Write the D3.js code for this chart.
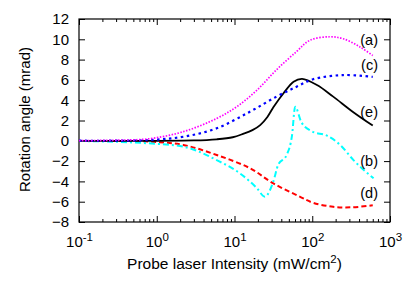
<!DOCTYPE html>
<html lang="en">
<head>
    <meta charset="UTF-8">
    <title>Rotation angle vs probe intensity</title>
    <style>
        body { margin: 0; background: #fff; }
        svg { font-family: "Liberation Sans", Arial, sans-serif; }
        .axis text { font-size: 15px; fill: #000; }
        .axis line { stroke: #000; }
        .curve { fill: none; }
    </style>
</head>
<body>
    <div id="chart"></div>

    <script src="https://d3js.org/d3.v7.min.js"></script>
    <script>
        // Data (intensity in mW/cm^2, rotation in mrad)
        const xA = [0.1, 0.3, 0.8, 2.2, 5.9, 10.7, 19.5, 34.7, 63, 93, 170, 251, 407, 600];
        const yA = [0.02, 0.06, 0.2, 0.9, 2.2, 3.36, 5.0, 7.0, 8.8, 9.9, 10.25, 10.05, 9.27, 8.4];

        const xC = [0.1, 0.8, 2.2, 5.9, 15.8, 34.7, 63, 102, 251, 600];
        const yC = [0.01, 0.08, 0.4, 1.23, 2.87, 4.35, 5.33, 6.06, 6.48, 6.3];

        const xE = [0.1, 3, 5.9, 9.5, 12.9, 17, 21.4, 26.5, 31.6, 42.7, 57.5, 74, 115, 186, 331, 600];
        const yE = [0.0, 0.04, 0.15, 0.35, 0.68, 1.05, 1.55, 2.35, 3.3, 4.68, 5.82, 6.1, 5.5, 4.35, 2.87, 1.5];

        const xD = [0.1, 0.8, 2.2, 5.9, 15.8, 31.6, 69, 102, 186, 331, 600];
        const yD = [-0.02, -0.08, -0.41, -1.4, -2.7, -4.2, -5.5, -6.1, -6.5, -6.55, -6.35];

        const xB = [0.1, 0.8, 2.2, 5.9, 11.7, 19.5, 24.5, 31.6, 36.3, 46.8, 55, 60.3, 72, 98, 155, 229, 339, 615];
        const yB = [-0.02, -0.25, -0.58, -1.9, -3.2, -4.68, -5.5, -4.0, -2.4, -1.4, 0.57, 3.36, 1.88, 0.95, 0.5, -0.41, -1.9, -3.7];

        const yTicks = [-8, -6, -4, -2, 0, 2, 4, 6, 8, 10, 12];
        const xDecades = [0.1, 1, 10, 100, 1000];
        const xExponents = ["-1", "0", "1", "2", "3"];
        const curveLabels = ["(a)", "(c)", "(e)", "(b)", "(d)"];
        const labelValues = [9.9, 7.5, 2.85, -1.95, -5.1];

        const W = 415, H = 291;
        const mLeft = 79, mRight = 390, mTop = 19, mBottom = 222;

        const svg = d3.select('#chart').append('svg')
            .attr('width', W)
            .attr('height', H);

        const x = d3.scaleLog().domain([0.1, 1000]).range([mLeft, mRight]);
        const y = d3.scaleLinear().domain([-8, 12]).range([mBottom, mTop]);

        // minor ticks 2..9 within each decade
        const minor = [];
        xDecades.slice(0, -1).forEach(d => {
            for (let k = 2; k <= 9; k++) minor.push(d * k);
        });

        // bottom axis
        const gB = svg.append('g').attr('class', 'axis')
            .attr('transform', `translate(0,${mBottom})`)
            .call(d3.axisBottom(x).tickValues(xDecades).tickSizeInner(-6).tickSizeOuter(0).tickPadding(0).tickFormat(''));
        gB.selectAll('.tick text').each(function(d, i) {
            const t = d3.select(this).attr('y', 25).attr('dy', null).attr('font-size', 15.5).text('');
            t.append('tspan').text('10');
            t.append('tspan').attr('dy', -6.5).attr('font-size', 11.5).text(xExponents[i]);
        });
        svg.append('g').attr('class', 'axis')
            .attr('transform', `translate(0,${mBottom})`)
            .call(d3.axisBottom(x).tickValues(minor).tickSizeInner(-3).tickSizeOuter(0).tickFormat(''));

        // top axis
        svg.append('g').attr('class', 'axis')
            .attr('transform', `translate(0,${mTop})`)
            .call(d3.axisTop(x).tickValues(xDecades).tickSizeInner(-6).tickSizeOuter(0).tickFormat(''));
        svg.append('g').attr('class', 'axis')
            .attr('transform', `translate(0,${mTop})`)
            .call(d3.axisTop(x).tickValues(minor).tickSizeInner(-3).tickSizeOuter(0).tickFormat(''));

        // left and right axes
        svg.append('g').attr('class', 'axis')
            .attr('transform', `translate(${mLeft},0)`)
            .call(d3.axisLeft(y).tickValues(yTicks).tickSizeInner(-6).tickSizeOuter(0).tickPadding(10));
        svg.append('g').attr('class', 'axis')
            .attr('transform', `translate(${mRight},0)`)
            .call(d3.axisRight(y).tickValues(yTicks).tickSizeInner(-6).tickSizeOuter(0).tickFormat(''));

        svg.selectAll('.axis .domain').remove();

        // frame
        svg.append('rect')
            .attr('x', mLeft).attr('y', mTop)
            .attr('width', mRight - mLeft).attr('height', mBottom - mTop)
            .attr('fill', 'none').attr('stroke', '#000').attr('stroke-width', 1.2);

        const smooth = d3.line()
            .x(d => x(d[0]))
            .y(d => y(d[1]))
            .curve(d3.curveCatmullRom.alpha(0.5));
        const sharp = d3.line()
            .x(d => x(d[0]))
            .y(d => y(d[1]))
            .curve(d3.curveMonotoneX);

        const series = [
            { xs: xD, ys: yD, color: '#ff0000', width: 2, dash: '5,3', gen: smooth },
            { xs: xB, ys: yB, color: '#00ffff', width: 2, dash: '6,3,2,3', gen: sharp },
            { xs: xE, ys: yE, color: '#000000', width: 1.8, dash: null, gen: smooth },
            { xs: xC, ys: yC, color: '#0000ff', width: 2.2, dash: '2.5,3.5', gen: smooth },
            { xs: xA, ys: yA, color: '#ff00ff', width: 1.7, dash: '1.5,1.5', gen: smooth }
        ];

        series.forEach(s => {
            svg.append('path')
                .attr('class', 'curve')
                .attr('d', s.gen(d3.zip(s.xs, s.ys)))
                .attr('stroke', s.color)
                .attr('stroke-width', s.width)
                .attr('stroke-dasharray', s.dash);
        });

        // curve labels
        svg.selectAll('.clabel')
            .data(curveLabels)
            .enter()
            .append('text')
            .attr('class', 'clabel')
            .attr('x', 378)
            .attr('y', (d, i) => y(labelValues[i]))
            .attr('dy', '0.35em')
            .attr('text-anchor', 'end')
            .attr('font-size', 14.5)
            .text(d => d);

        // axis titles
        const xt = svg.append('text')
            .attr('x', (mLeft + mRight) / 2)
            .attr('y', 269)
            .attr('text-anchor', 'middle')
            .attr('font-size', 15.5);
        xt.append('tspan').text('Probe laser Intensity (mW/cm');
        xt.append('tspan').attr('dy', -6.5).attr('font-size', 11.5).text('2');
        xt.append('tspan').attr('dy', 6.5).text(')');

        svg.append('text')
            .attr('transform', `translate(30,${(mTop + mBottom) / 2 - 1}) rotate(-90)`)
            .attr('text-anchor', 'middle')
            .attr('font-size', 15)
            .text('Rotation angle (mrad)');
    </script>
</body>
</html>
